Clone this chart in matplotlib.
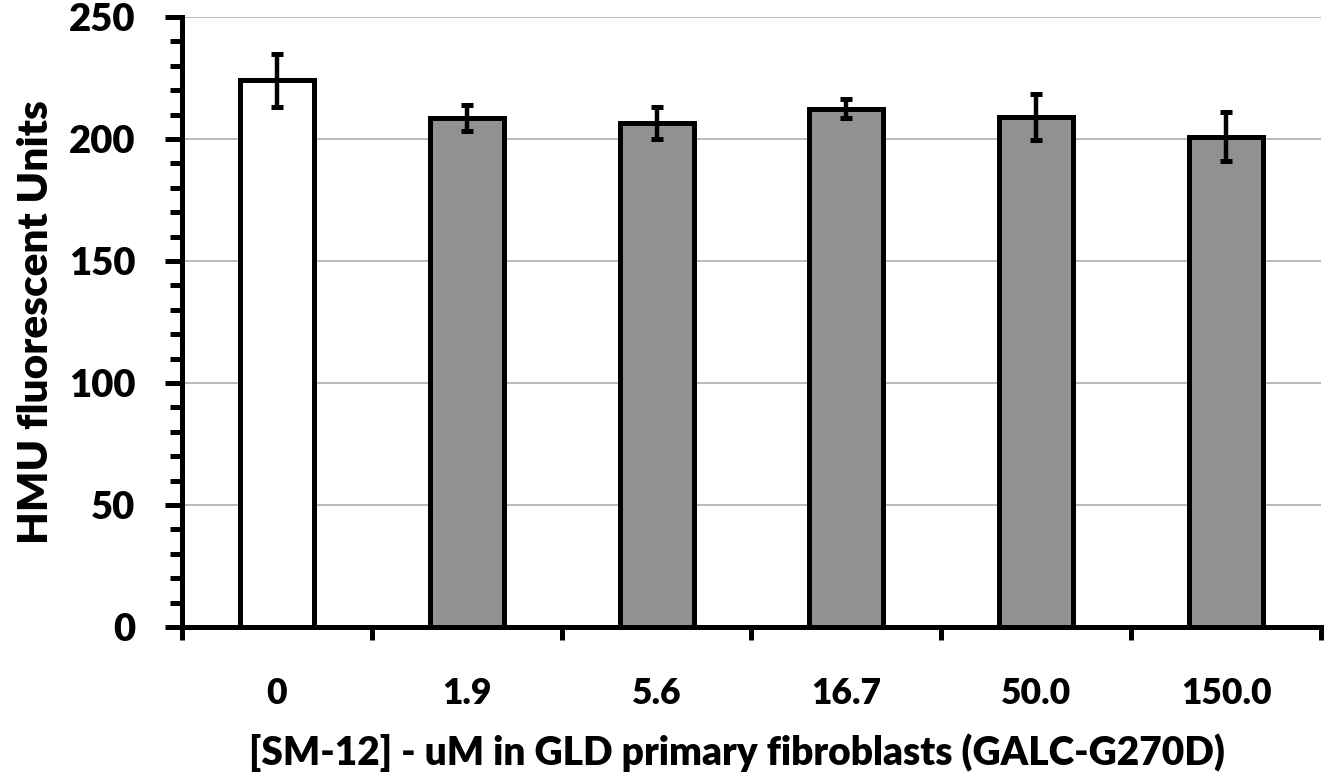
import matplotlib
matplotlib.use("Agg")
import matplotlib.pyplot as plt
from matplotlib.ticker import MultipleLocator, FixedLocator, NullFormatter
import numpy as np

plt.rcParams['font.family'] = ['Lato', 'DejaVu Sans']
plt.rcParams['font.weight'] = 'heavy'

# Data
doses = ["0", "1.9", "5.6", "16.7", "50.0", "150.0"]
hmu_mean = [224, 208.5, 206.5, 212.5, 209, 201]
hmu_err = [10.8, 5.3, 6.5, 4.0, 9.6, 10.2]
bar_colors = ["white", "#919191", "#919191", "#919191", "#919191", "#919191"]

fig = plt.figure(figsize=(13.24, 7.75), dpi=100)
ax = fig.add_axes([182 / 1324, 1 - 627 / 775, (1321 - 182) / 1324, (627 - 17) / 775])

x = np.arange(len(doses))
ax.bar(x, hmu_mean, width=0.39, color=bar_colors, edgecolor="black",
       linewidth=3.6, zorder=3)
ax.errorbar(x, hmu_mean, yerr=hmu_err, fmt="none", ecolor="black",
            elinewidth=3.2, capsize=4.0, capthick=3.6, zorder=4)

ax.set_xlim(-0.5, len(doses) - 0.5)
ax.set_ylim(0, 250)

# y axis: major every 50, minor every 10, outward ticks
ax.yaxis.set_major_locator(MultipleLocator(50))
ax.yaxis.set_minor_locator(MultipleLocator(10))
ax.tick_params(axis="y", which="major", direction="out", length=12.5, width=3.6,
               labelsize=27.5, pad=21)
ax.tick_params(axis="y", which="minor", direction="out", length=8.5, width=3.6)

# x axis: ticks at category boundaries, labels at category centres
ax.xaxis.set_major_locator(FixedLocator(np.arange(-0.5, len(doses), 1.0)))
ax.xaxis.set_major_formatter(NullFormatter())
ax.xaxis.set_minor_locator(FixedLocator(x))
ax.set_xticklabels(doses, minor=True)
ax.tick_params(axis="x", which="major", direction="out", length=9, width=3.6)
ax.tick_params(axis="x", which="minor", length=0, labelsize=25.5, pad=36)

for side in ("top", "right"):
    ax.spines[side].set_visible(False)
for side in ("left", "bottom"):
    ax.spines[side].set_linewidth(3.6)
    ax.spines[side].set_capstyle("projecting")

ax.yaxis.grid(True, color="#a6a6a6", linewidth=1.1, zorder=0)
ax.set_axisbelow(True)

ax.set_xlabel("[SM-12] - uM in GLD primary fibroblasts (GALC-G270D)",
              fontsize=28, fontweight="heavy", labelpad=17)
ax.xaxis.label.set_x(0.487)
ax.set_ylabel("HMU fluorescent Units", fontsize=30.4, fontweight="heavy",
              labelpad=10)

fig.savefig("out.png", dpi=100)
